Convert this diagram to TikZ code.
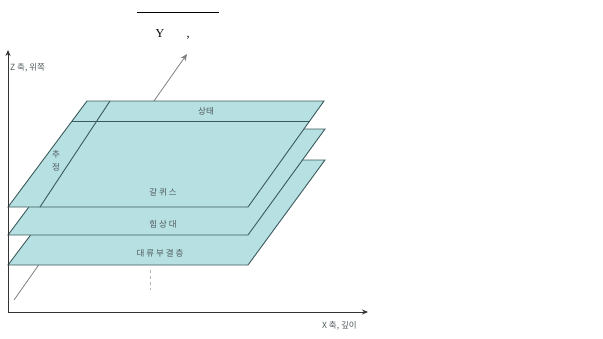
\documentclass[tikz,border=0pt]{standalone}
\usepackage{fontspec}
\setmainfont{Liberation Serif}
\newfontfamily\kr{Noto Sans CJK KR}
\usetikzlibrary{arrows.meta}
\definecolor{planefill}{RGB}{182,224,226}
\definecolor{planeedge}{RGB}{60,90,92}
\definecolor{lbl}{RGB}{80,90,92}
\tikzset{
  plane/.style={fill=planefill, draw=planeedge, line width=0.9pt, line join=miter},
  inner/.style={draw=planeedge, line width=0.9pt},
  axis/.style={draw=black!80, line width=0.9pt, -{Stealth[length=6pt,width=5pt]}},
  yaxis/.style={draw=black!50, line width=0.8pt, -{Stealth[length=7pt,width=6pt]}},
  krl/.style={font=\kr\fontsize{8.5}{9}\selectfont, text=lbl, inner sep=0pt},
  title/.style={font=\fontsize{12}{13}\selectfont, inner sep=0pt, anchor=base}
}
\begin{document}
\begin{tikzpicture}[x=1pt,y=-1pt]
\useasboundingbox (0,0) rectangle (603,338);
% title
\coordinate (tl) at (137,12);
\coordinate (tr) at (219,12);
\draw[line width=0.8pt] (tl) -- (tr);
\node[title] (ty) at (160,37) {Y};
\node[title] (tc) at (188,37) {,};
% axes
\coordinate (o) at (8,312);
\coordinate (ztop) at (8,50);
\coordinate (xend) at (368,312);
\coordinate (ystart) at (14,300);
\coordinate (yend) at (187,54);
\draw[yaxis] (ystart) -- (yend);
\coordinate (d1) at (150,270);
\coordinate (d2) at (150,290);
\draw[black!30, line width=0.7pt, dashed] (d1) -- (d2);
% planes (bottom first)
\coordinate (c1) at (8,265); \coordinate (c2) at (248,265);
\coordinate (c3) at (325,160); \coordinate (c4) at (87,160);
\draw[plane] (c1) -- (c2) -- (c3) -- (c4) -- cycle;
\coordinate (b1) at (8,235); \coordinate (b2) at (248,235);
\coordinate (b3) at (325,129); \coordinate (b4) at (87,129);
\draw[plane] (b1) -- (b2) -- (b3) -- (b4) -- cycle;
\coordinate (a1) at (8,207); \coordinate (a2) at (248,207);
\coordinate (a3) at (324,101); \coordinate (a4) at (87,101);
\draw[plane] (a1) -- (a2) -- (a3) -- (a4) -- cycle;
\coordinate (s1) at (110,101); \coordinate (s2) at (40,207);
\draw[inner] (s1) -- (s2);
\coordinate (h1) at (72,121); \coordinate (h2) at (310,121);
\draw[inner] (h1) -- (h2);
\draw[axis] (o) -- (ztop);
\draw[axis] (o) -- (xend);
% labels
\node[krl] (la) at (206,111) {상태};
\node[krl, align=center] (lb) at (56,161) {추\\[4pt]정};
\node[krl] (lc) at (163,192) {갈 퀴 스};
\node[krl] (ld) at (163,224) {힘 상 대};
\node[krl] (le) at (160,253) {대 류 부 결 층};
\node[krl, anchor=west] (lz) at (10,68) {Z 축, 위쪽};
\node[krl, anchor=west] (lx) at (322,326) {X 축, 깊이};
\end{tikzpicture}
\end{document}
